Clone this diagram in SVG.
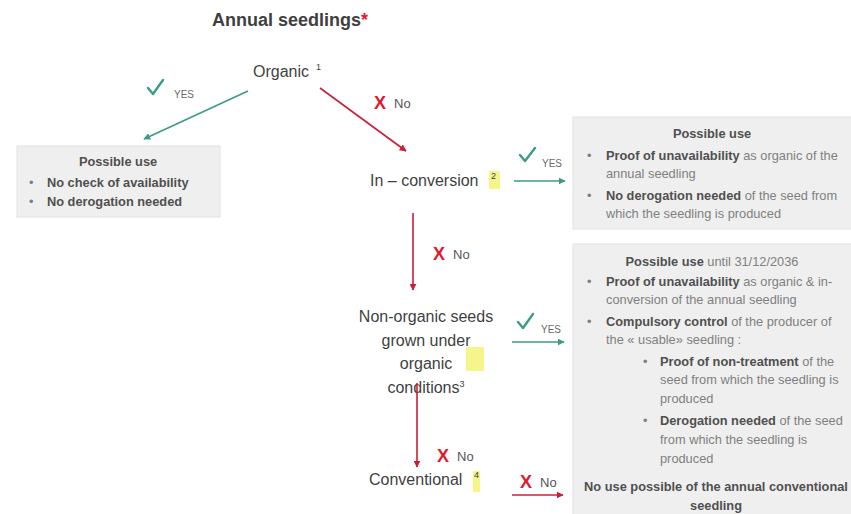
<svg xmlns="http://www.w3.org/2000/svg" width="851" height="514" viewBox="0 0 851 514">
  <defs>
    <marker id="ah-green" viewBox="0 0 10 10" refX="9" refY="5" markerWidth="7" markerHeight="7" orient="auto" markerUnits="userSpaceOnUse">
      <path d="M0,0 L10,5 L0,10 z" fill="#3a9c84"/>
    </marker>
    <marker id="ah-red" viewBox="0 0 10 10" refX="9" refY="5" markerWidth="7" markerHeight="7" orient="auto" markerUnits="userSpaceOnUse">
      <path d="M0,0 L10,5 L0,10 z" fill="#c8203a"/>
    </marker>
  </defs>
  <style>
    text { font-family: "Liberation Sans", Arial, sans-serif; fill: #3f3f3f; }
    .title { font-size: 18px; font-weight: bold; }
    .node { font-size: 16px; }
    .sup { font-size: 9px; }
    .box { fill: #efefef; stroke: #e2e2e2; stroke-width: 1; }
    .bt { font-size: 12.8px; fill: #808080; }
    .b { font-weight: bold; fill: #505050; }
    .yes { font-size: 10px; fill: #6a6a6a; }
    .no { font-size: 13px; fill: #555555; }
    .x { font-size: 18px; fill: #e0192f; font-weight: bold; }
    .hl { fill: #f5f58a; }
    .green { stroke: #3a9c84; stroke-width: 1.6; fill: none; }
    .red { stroke: #c8203a; stroke-width: 1.6; fill: none; }
    .check { stroke: #3a9c84; stroke-width: 2.4; fill: none; stroke-linecap: round; stroke-linejoin: round; }
  </style>

  <rect width="851" height="514" fill="#ffffff"/>

  <!-- title -->
  <g id="title">
    <text class="title" x="212" y="26">Annual seedlings<tspan fill="#e0192f">*</tspan></text>
  </g>

  <!-- decision nodes -->
  <g id="n-organic">
    <text class="node" x="253" y="77">Organic</text>
    <text class="sup" x="316" y="70">1</text>
  </g>

  <g id="n-inconversion">
    <rect class="hl" x="489" y="171" width="11" height="18"/>
    <text class="node" x="370" y="186">In – conversion</text>
    <text class="sup" x="491" y="179">2</text>
  </g>

  <g id="n-nonorganic">
    <rect class="hl" x="466" y="347" width="18" height="24"/>
    <text class="node" text-anchor="middle" x="426" y="322">Non-organic seeds</text>
    <text class="node" text-anchor="middle" x="426" y="346">grown under</text>
    <text class="node" text-anchor="middle" x="426" y="369">organic</text>
    <text class="node" text-anchor="middle" x="426" y="393">conditions<tspan class="sup" dy="-6">3</tspan></text>
  </g>

  <g id="n-conventional">
    <rect class="hl" x="473" y="471" width="7" height="21"/>
    <text class="node" x="369" y="485">Conventional</text>
    <text class="sup" x="474" y="478">4</text>
  </g>

  <!-- outcome boxes -->
  <g id="out-organic">
    <rect class="box" x="17" y="146" width="203" height="71"/>
    <text class="bt b" text-anchor="middle" x="118" y="166">Possible use</text>
    <text class="bt" x="29" y="187">•</text>
    <text class="bt b" x="47" y="187">No check of availability</text>
    <text class="bt" x="29" y="206">•</text>
    <text class="bt b" x="47" y="206">No derogation needed</text>
  </g>

  <g id="out-inconversion">
    <rect class="box" x="573" y="117" width="285" height="112"/>
    <text class="bt b" text-anchor="middle" x="712" y="138">Possible use</text>
    <text class="bt" x="587" y="160" fill="#b0606c">•</text>
    <text class="bt" x="606" y="160"><tspan class="b">Proof of unavailability</tspan> as organic of the</text>
    <text class="bt" x="606" y="178">annual seedling</text>
    <text class="bt" x="587" y="200" fill="#b0606c">•</text>
    <text class="bt" x="606" y="200"><tspan class="b">No derogation needed</tspan> of the seed from</text>
    <text class="bt" x="606" y="218">which the seedling is produced</text>
  </g>

  <g id="out-nonorganic">
    <rect class="box" x="573" y="244" width="285" height="280"/>
    <text class="bt" text-anchor="middle" x="712" y="266"><tspan class="b">Possible use</tspan> until 31/12/2036</text>
    <text class="bt" x="587" y="286">•</text>
    <text class="bt" x="606" y="286"><tspan class="b">Proof of unavailability</tspan> as organic &amp; in-</text>
    <text class="bt" x="606" y="304">conversion of the annual seedling</text>
    <text class="bt" x="587" y="326">•</text>
    <text class="bt" x="606" y="326"><tspan class="b">Compulsory control</tspan> of the producer of</text>
    <text class="bt" x="606" y="344">the « usable» seedling :</text>
    <text class="bt" x="643" y="366" fill="#b0606c">•</text>
    <text class="bt" x="660" y="366"><tspan class="b">Proof of non-treatment</tspan> of the</text>
    <text class="bt" x="660" y="384">seed from which the seedling is</text>
    <text class="bt" x="660" y="403">produced</text>
    <text class="bt" x="643" y="425" fill="#c8203a">•</text>
    <text class="bt" x="660" y="425"><tspan class="b">Derogation needed</tspan> of the seed</text>
    <text class="bt" x="660" y="444">from which the seedling is</text>
    <text class="bt" x="660" y="463">produced</text>
  </g>

  <g id="out-conventional">
    <text class="bt b" text-anchor="middle" x="716" y="491">No use possible of the annual conventional</text>
    <text class="bt b" text-anchor="middle" x="716" y="510">seedling</text>
  </g>

  <!-- connectors -->
  <g id="connectors">
    <line class="green" x1="248" y1="91" x2="144" y2="139" marker-end="url(#ah-green)"/>
    <line class="red" x1="320" y1="88" x2="406" y2="151" marker-end="url(#ah-red)"/>
    <line class="green" x1="514" y1="181" x2="565" y2="181" marker-end="url(#ah-green)"/>
    <line class="red" x1="413" y1="213" x2="413" y2="290" marker-end="url(#ah-red)"/>
    <line class="green" x1="512" y1="342" x2="564" y2="342" marker-end="url(#ah-green)"/>
    <line class="red" x1="417" y1="383" x2="417" y2="467" marker-end="url(#ah-red)"/>
    <line class="red" x1="512" y1="495" x2="563" y2="495" marker-end="url(#ah-red)"/>
  </g>

  <!-- branch labels -->
  <g id="labels">
    <path class="check" d="M148,88 L153,94 L163,80"/>
    <text class="yes" x="174" y="98">YES</text>
    <text class="x" x="374" y="109">X</text>
    <text class="no" x="394" y="108">No</text>

    <path class="check" d="M520,155 L525,161 L535,148"/>
    <text class="yes" x="542" y="167">YES</text>

    <text class="x" x="433" y="260">X</text>
    <text class="no" x="453" y="259">No</text>

    <path class="check" d="M518,322 L523,328 L533,314"/>
    <text class="yes" x="541" y="333">YES</text>

    <text class="x" x="437" y="462">X</text>
    <text class="no" x="457" y="461">No</text>

    <text class="x" x="520" y="488">X</text>
    <text class="no" x="540" y="487">No</text>
  </g>
</svg>
